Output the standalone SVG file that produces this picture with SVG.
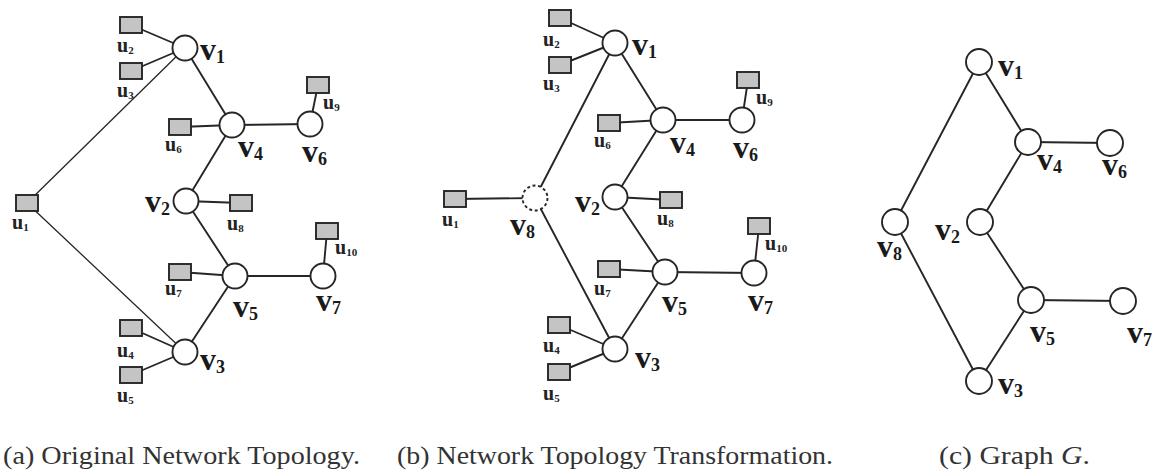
<svg xmlns="http://www.w3.org/2000/svg" width="1155" height="472" viewBox="0 0 1155 472">
  <style>
    .edge { stroke: #262626; stroke-width: 1.9; fill: none; stroke-linecap: round; }
    .thin { stroke-width: 1.3; }
    .sw { fill: #ffffff; stroke: #262626; stroke-width: 1.9; }
    .sw8 { fill: #ffffff; stroke: #262626; stroke-width: 1.9; stroke-dasharray: 3 2.6; }
    .host { fill: #c4c4c4; stroke: #262626; stroke-width: 1.9; }
    .vl { font-family: "Liberation Serif", "Times New Roman", serif; font-weight: bold; font-size: 32px; fill: #1a1a1a; }
    .vl .sub { font-size: 18px; }
    .ul { font-family: "Liberation Serif", "Times New Roman", serif; font-weight: bold; font-size: 20px; fill: #222; }
    .ul .sub { font-size: 11px; }
    .cap { font-family: "Liberation Serif", "DejaVu Serif", serif; font-size: 25px; fill: #333; }
  </style>

  <!-- ===== (a) original network topology ===== -->
  <g id="connectors-a">
    <line class="edge" x1="131" y1="25" x2="185" y2="48"/>
    <line class="edge" x1="131" y1="71" x2="185" y2="48"/>
    <line class="edge thin" x1="27" y1="203" x2="185" y2="48"/>
    <line class="edge" x1="185" y1="48" x2="232" y2="125"/>
    <line class="edge" x1="180" y1="127" x2="232" y2="125"/>
    <line class="edge" x1="232" y1="125" x2="310" y2="124"/>
    <line class="edge" x1="318" y1="85" x2="310" y2="124"/>
    <line class="edge" x1="232" y1="125" x2="186" y2="201"/>
    <line class="edge" x1="186" y1="201" x2="241" y2="203"/>
    <line class="edge" x1="186" y1="201" x2="235" y2="276"/>
    <line class="edge thin" x1="27" y1="203" x2="185" y2="352"/>
    <line class="edge" x1="180" y1="272" x2="235" y2="276"/>
    <line class="edge" x1="235" y1="276" x2="323" y2="276"/>
    <line class="edge" x1="327" y1="231" x2="323" y2="276"/>
    <line class="edge" x1="235" y1="276" x2="185" y2="352"/>
    <line class="edge" x1="131" y1="328" x2="185" y2="352"/>
    <line class="edge" x1="131" y1="375" x2="185" y2="352"/>
  </g>

  <g id="a-v1"><circle class="sw" cx="185" cy="48" r="12.5"/><text class="vl" x="200" y="60">v<tspan class="sub" dy="3">1</tspan></text></g>
  <g id="a-v4"><circle class="sw" cx="232" cy="125" r="12.5"/><text class="vl" x="238" y="157">v<tspan class="sub" dy="3">4</tspan></text></g>
  <g id="a-v6"><circle class="sw" cx="310" cy="124" r="12.5"/><text class="vl" x="302" y="162">v<tspan class="sub" dy="3">6</tspan></text></g>
  <g id="a-v2"><circle class="sw" cx="186" cy="201" r="12.5"/><text class="vl" x="145" y="212">v<tspan class="sub" dy="3">2</tspan></text></g>
  <g id="a-v5"><circle class="sw" cx="235" cy="276" r="12.5"/><text class="vl" x="233" y="317">v<tspan class="sub" dy="3">5</tspan></text></g>
  <g id="a-v7"><circle class="sw" cx="323" cy="276" r="12.5"/><text class="vl" x="316" y="311">v<tspan class="sub" dy="3">7</tspan></text></g>
  <g id="a-v3"><circle class="sw" cx="185" cy="352" r="12.5"/><text class="vl" x="200" y="370">v<tspan class="sub" dy="3">3</tspan></text></g>

  <g id="a-u2"><rect class="host" x="120" y="17" width="22" height="16"/><text class="ul" x="117" y="52">u<tspan class="sub" dy="2">2</tspan></text></g>
  <g id="a-u3"><rect class="host" x="120" y="63" width="22" height="16"/><text class="ul" x="117" y="97">u<tspan class="sub" dy="2">3</tspan></text></g>
  <g id="a-u6"><rect class="host" x="169" y="119" width="22" height="16"/><text class="ul" x="165" y="151">u<tspan class="sub" dy="2">6</tspan></text></g>
  <g id="a-u9"><rect class="host" x="307" y="77" width="22" height="16"/><text class="ul" x="323" y="109">u<tspan class="sub" dy="2">9</tspan></text></g>
  <g id="a-u8"><rect class="host" x="230" y="195" width="22" height="16"/><text class="ul" x="227" y="230">u<tspan class="sub" dy="2">8</tspan></text></g>
  <g id="a-u1"><rect class="host" x="16" y="195" width="22" height="16"/><text class="ul" x="12" y="229">u<tspan class="sub" dy="2">1</tspan></text></g>
  <g id="a-u7"><rect class="host" x="169" y="264" width="22" height="16"/><text class="ul" x="165" y="295">u<tspan class="sub" dy="2">7</tspan></text></g>
  <g id="a-u10"><rect class="host" x="316" y="223" width="22" height="16"/><text class="ul" x="335" y="254">u<tspan class="sub" dy="2">10</tspan></text></g>
  <g id="a-u4"><rect class="host" x="120" y="320" width="22" height="16"/><text class="ul" x="117" y="357">u<tspan class="sub" dy="2">4</tspan></text></g>
  <g id="a-u5"><rect class="host" x="120" y="367" width="22" height="16"/><text class="ul" x="117" y="402">u<tspan class="sub" dy="2">5</tspan></text></g>

  <text id="caption-a" class="cap" x="3" y="464" textLength="357" lengthAdjust="spacingAndGlyphs">(a) Original Network Topology.</text>

  <!-- ===== (b) transformed topology ===== -->
  <g id="connectors-b">
    <line class="edge" x1="560" y1="18" x2="615" y2="43"/>
    <line class="edge" x1="560" y1="65" x2="615" y2="43"/>
    <line class="edge" x1="615" y1="43" x2="535" y2="198"/>
    <line class="edge" x1="615" y1="43" x2="663" y2="120"/>
    <line class="edge" x1="609" y1="123" x2="663" y2="120"/>
    <line class="edge" x1="663" y1="120" x2="742" y2="120"/>
    <line class="edge" x1="748" y1="80" x2="742" y2="120"/>
    <line class="edge" x1="663" y1="120" x2="615" y2="197"/>
    <line class="edge" x1="455" y1="199" x2="535" y2="198"/>
    <line class="edge" x1="615" y1="197" x2="671" y2="200"/>
    <line class="edge" x1="615" y1="197" x2="665" y2="272"/>
    <line class="edge" x1="535" y1="198" x2="615" y2="349"/>
    <line class="edge" x1="609" y1="269" x2="665" y2="272"/>
    <line class="edge" x1="665" y1="272" x2="754" y2="273"/>
    <line class="edge" x1="759" y1="226" x2="754" y2="273"/>
    <line class="edge" x1="665" y1="272" x2="615" y2="349"/>
    <line class="edge" x1="559" y1="325" x2="615" y2="349"/>
    <line class="edge" x1="559" y1="372" x2="615" y2="349"/>
  </g>

  <g id="b-v1"><circle class="sw" cx="615" cy="43" r="12.5"/><text class="vl" x="632" y="55">v<tspan class="sub" dy="3">1</tspan></text></g>
  <g id="b-v4"><circle class="sw" cx="663" cy="120" r="12.5"/><text class="vl" x="670" y="153">v<tspan class="sub" dy="3">4</tspan></text></g>
  <g id="b-v6"><circle class="sw" cx="742" cy="120" r="12.5"/><text class="vl" x="733" y="158">v<tspan class="sub" dy="3">6</tspan></text></g>
  <g id="b-v8"><circle class="sw8" cx="535" cy="198" r="12.5"/><text class="vl" x="510" y="235">v<tspan class="sub" dy="3">8</tspan></text></g>
  <g id="b-v2"><circle class="sw" cx="615" cy="197" r="12.5"/><text class="vl" x="575" y="212">v<tspan class="sub" dy="3">2</tspan></text></g>
  <g id="b-v5"><circle class="sw" cx="665" cy="272" r="12.5"/><text class="vl" x="662" y="312">v<tspan class="sub" dy="3">5</tspan></text></g>
  <g id="b-v7"><circle class="sw" cx="754" cy="273" r="12.5"/><text class="vl" x="748" y="311">v<tspan class="sub" dy="3">7</tspan></text></g>
  <g id="b-v3"><circle class="sw" cx="615" cy="349" r="12.5"/><text class="vl" x="635" y="368">v<tspan class="sub" dy="3">3</tspan></text></g>

  <g id="b-u2"><rect class="host" x="549" y="10" width="22" height="16"/><text class="ul" x="543" y="46">u<tspan class="sub" dy="2">2</tspan></text></g>
  <g id="b-u3"><rect class="host" x="549" y="57" width="22" height="16"/><text class="ul" x="543" y="90">u<tspan class="sub" dy="2">3</tspan></text></g>
  <g id="b-u6"><rect class="host" x="598" y="115" width="22" height="16"/><text class="ul" x="594" y="147">u<tspan class="sub" dy="2">6</tspan></text></g>
  <g id="b-u9"><rect class="host" x="737" y="72" width="22" height="16"/><text class="ul" x="756" y="104">u<tspan class="sub" dy="2">9</tspan></text></g>
  <g id="b-u1"><rect class="host" x="444" y="191" width="22" height="16"/><text class="ul" x="442" y="226">u<tspan class="sub" dy="2">1</tspan></text></g>
  <g id="b-u8"><rect class="host" x="660" y="192" width="22" height="16"/><text class="ul" x="657" y="225">u<tspan class="sub" dy="2">8</tspan></text></g>
  <g id="b-u7"><rect class="host" x="598" y="261" width="22" height="16"/><text class="ul" x="594" y="295">u<tspan class="sub" dy="2">7</tspan></text></g>
  <g id="b-u10"><rect class="host" x="748" y="218" width="22" height="16"/><text class="ul" x="765" y="250">u<tspan class="sub" dy="2">10</tspan></text></g>
  <g id="b-u4"><rect class="host" x="548" y="317" width="22" height="16"/><text class="ul" x="543" y="352">u<tspan class="sub" dy="2">4</tspan></text></g>
  <g id="b-u5"><rect class="host" x="548" y="364" width="22" height="16"/><text class="ul" x="543" y="400">u<tspan class="sub" dy="2">5</tspan></text></g>

  <text id="caption-b" class="cap" x="397" y="464" textLength="436" lengthAdjust="spacingAndGlyphs">(b) Network Topology Transformation.</text>

  <!-- ===== (c) graph G ===== -->
  <g id="connectors-c">
    <line class="edge" x1="979" y1="62" x2="895" y2="222"/>
    <line class="edge" x1="979" y1="62" x2="1028" y2="142"/>
    <line class="edge" x1="1028" y1="142" x2="1110" y2="143"/>
    <line class="edge" x1="1028" y1="142" x2="980" y2="222"/>
    <line class="edge" x1="980" y1="222" x2="1031" y2="300"/>
    <line class="edge" x1="895" y1="222" x2="979" y2="381"/>
    <line class="edge" x1="1031" y1="300" x2="1123" y2="301"/>
    <line class="edge" x1="1031" y1="300" x2="979" y2="381"/>
  </g>

  <g id="c-v1"><circle class="sw" cx="979" cy="62" r="13"/><text class="vl" x="998" y="76">v<tspan class="sub" dy="3">1</tspan></text></g>
  <g id="c-v4"><circle class="sw" cx="1028" cy="142" r="13"/><text class="vl" x="1037" y="170">v<tspan class="sub" dy="3">4</tspan></text></g>
  <g id="c-v6"><circle class="sw" cx="1110" cy="143" r="13"/><text class="vl" x="1102" y="175">v<tspan class="sub" dy="3">6</tspan></text></g>
  <g id="c-v8"><circle class="sw" cx="895" cy="222" r="13"/><text class="vl" x="877" y="257">v<tspan class="sub" dy="3">8</tspan></text></g>
  <g id="c-v2"><circle class="sw" cx="980" cy="222" r="13"/><text class="vl" x="935" y="240">v<tspan class="sub" dy="3">2</tspan></text></g>
  <g id="c-v5"><circle class="sw" cx="1031" cy="300" r="13"/><text class="vl" x="1030" y="342">v<tspan class="sub" dy="3">5</tspan></text></g>
  <g id="c-v7"><circle class="sw" cx="1123" cy="301" r="13"/><text class="vl" x="1127" y="343">v<tspan class="sub" dy="3">7</tspan></text></g>
  <g id="c-v3"><circle class="sw" cx="979" cy="381" r="13"/><text class="vl" x="998" y="394">v<tspan class="sub" dy="3">3</tspan></text></g>

  <text id="caption-c" class="cap" x="939" y="464" textLength="151" lengthAdjust="spacingAndGlyphs">(c) Graph <tspan font-style="italic">G</tspan>.</text>
</svg>
